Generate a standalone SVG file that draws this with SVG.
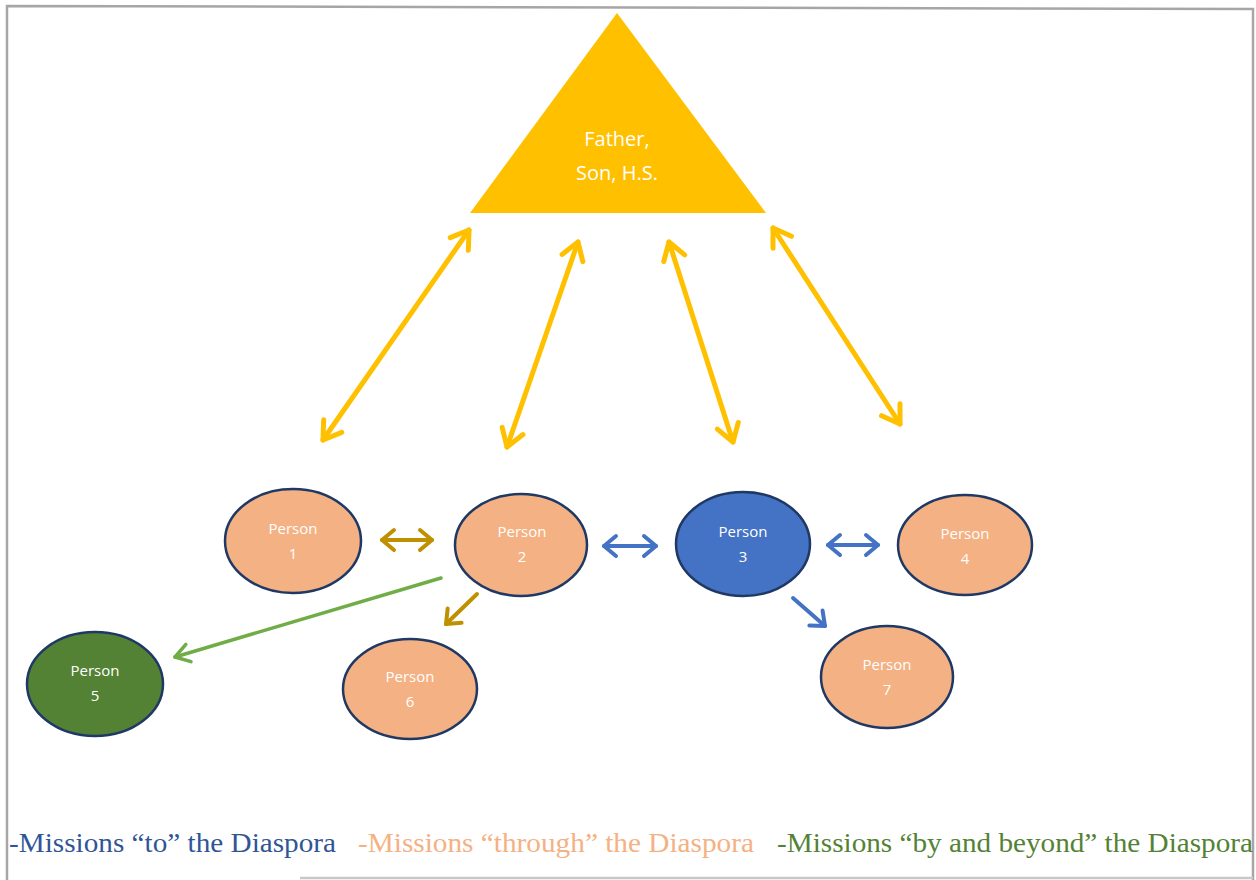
<svg xmlns="http://www.w3.org/2000/svg" width="1256" height="880" viewBox="0 0 1256 880">
<style>
.person{fill:#F4B183;stroke:#1F3864;stroke-width:2.5}
.blue{fill:#4472C4}
.green{fill:#548235}
.lbl{font-family:"Open Sans","Liberation Sans",sans-serif;font-size:15px;fill:#FFFFFF;text-anchor:middle}
.tri{font-family:"Open Sans","Liberation Sans",sans-serif;font-size:20px;fill:#FFFFFF;text-anchor:middle}
.yl{stroke:#FFC000;stroke-width:5;fill:none;stroke-linecap:round}
.gd{stroke:#BF9000;stroke-width:4;fill:none;stroke-linecap:round}
.bl{stroke:#4472C4;stroke-width:4;fill:none;stroke-linecap:round}
.gr{stroke:#70AD47;stroke-width:3.5;fill:none;stroke-linecap:round}
.leg{font-family:"Liberation Serif","Times New Roman",serif;font-size:28px}
</style>
<defs>
<marker id="mY" markerUnits="userSpaceOnUse" viewBox="-25 -15 30 30" markerWidth="30" markerHeight="30" refX="0" refY="0" orient="auto-start-reverse" overflow="visible">
<path d="M -17 -11 L 0 0 L -17 11" fill="none" stroke="#FFC000" stroke-width="5" stroke-linecap="round" stroke-linejoin="round"/>
</marker>
<marker id="mG" markerUnits="userSpaceOnUse" viewBox="-25 -15 30 30" markerWidth="30" markerHeight="30" refX="0" refY="0" orient="auto-start-reverse" overflow="visible">
<path d="M -12 -10 L 0 0 L -12 10" fill="none" stroke="#BF9000" stroke-width="4" stroke-linecap="round" stroke-linejoin="round"/>
</marker>
<marker id="mB" markerUnits="userSpaceOnUse" viewBox="-25 -15 30 30" markerWidth="30" markerHeight="30" refX="0" refY="0" orient="auto-start-reverse" overflow="visible">
<path d="M -12 -10 L 0 0 L -12 10" fill="none" stroke="#4472C4" stroke-width="4" stroke-linecap="round" stroke-linejoin="round"/>
</marker>
<marker id="mN" markerUnits="userSpaceOnUse" viewBox="-25 -15 30 30" markerWidth="30" markerHeight="30" refX="0" refY="0" orient="auto" overflow="visible">
<path d="M -14 -9 L 0 0 L -14 9" fill="none" stroke="#70AD47" stroke-width="3.5" stroke-linecap="round" stroke-linejoin="round"/>
</marker>
</defs>
<rect width="1256" height="880" fill="#FFFFFF"/>
<g id="frame" stroke="#A6A6A6" stroke-width="2.5" fill="none">
<path d="M 7 880 L 7 6 L 1253 9 L 1253 880"/>
<path d="M 300 878 L 1253 878" stroke="#C8C8C8"/>
</g>
<g id="trinity">
<polygon points="617,13 766,213 470,213" fill="#FFC000"/>
<text class="tri" x="617" y="146">Father,</text>
<text class="tri" x="617" y="180">Son, H.S.</text>
</g>
<g id="connectors">
<line class="yl" x1="469" y1="230" x2="323" y2="440" marker-start="url(#mY)" marker-end="url(#mY)"/>
<line class="yl" x1="578" y1="242" x2="507" y2="447" marker-start="url(#mY)" marker-end="url(#mY)"/>
<line class="yl" x1="669" y1="242" x2="733" y2="442" marker-start="url(#mY)" marker-end="url(#mY)"/>
<line class="yl" x1="773" y1="228" x2="900" y2="424" marker-start="url(#mY)" marker-end="url(#mY)"/>
<line class="gd" x1="382" y1="540" x2="432" y2="540" marker-start="url(#mG)" marker-end="url(#mG)"/>
<line class="bl" x1="604" y1="546" x2="656" y2="546" marker-start="url(#mB)" marker-end="url(#mB)"/>
<line class="bl" x1="828" y1="545" x2="878" y2="545" marker-start="url(#mB)" marker-end="url(#mB)"/>
<line class="gd" x1="477" y1="594" x2="446" y2="624" marker-end="url(#mG)"/>
<line class="bl" x1="793" y1="598" x2="825" y2="626" marker-end="url(#mB)"/>
<line class="gr" x1="441" y1="578" x2="175" y2="657" marker-end="url(#mN)"/>
</g>
<g id="person1">
<ellipse class="person" cx="293" cy="541" rx="68" ry="52"/>
<text class="lbl" x="293" y="534">Person</text>
<text class="lbl" x="293" y="559">1</text>
</g>
<g id="person2">
<ellipse class="person" cx="521" cy="545" rx="66" ry="51"/>
<text class="lbl" x="522" y="537">Person</text>
<text class="lbl" x="522" y="562">2</text>
</g>
<g id="person3">
<ellipse class="person blue" cx="743" cy="544" rx="67" ry="52"/>
<text class="lbl" x="743" y="537">Person</text>
<text class="lbl" x="743" y="562">3</text>
</g>
<g id="person4">
<ellipse class="person" cx="965" cy="545" rx="67" ry="50"/>
<text class="lbl" x="965" y="539">Person</text>
<text class="lbl" x="965" y="564">4</text>
</g>
<g id="person5">
<ellipse class="person green" cx="95" cy="684" rx="68" ry="52"/>
<text class="lbl" x="95" y="676">Person</text>
<text class="lbl" x="95" y="701">5</text>
</g>
<g id="person6">
<ellipse class="person" cx="410" cy="689" rx="67" ry="50"/>
<text class="lbl" x="410" y="682">Person</text>
<text class="lbl" x="410" y="707">6</text>
</g>
<g id="person7">
<ellipse class="person" cx="887" cy="677" rx="66" ry="51"/>
<text class="lbl" x="887" y="670">Person</text>
<text class="lbl" x="887" y="695">7</text>
</g>
<g id="legend">
<text class="leg" x="9" y="852" fill="#2F5597" textLength="327" lengthAdjust="spacingAndGlyphs">-Missions “to” the Diaspora</text>
<text class="leg" x="358" y="852" fill="#F4B183" textLength="396" lengthAdjust="spacingAndGlyphs">-Missions “through” the Diaspora</text>
<text class="leg" x="777" y="852" fill="#548235" textLength="476" lengthAdjust="spacingAndGlyphs">-Missions “by and beyond” the Diaspora</text>
</g>
</svg>
